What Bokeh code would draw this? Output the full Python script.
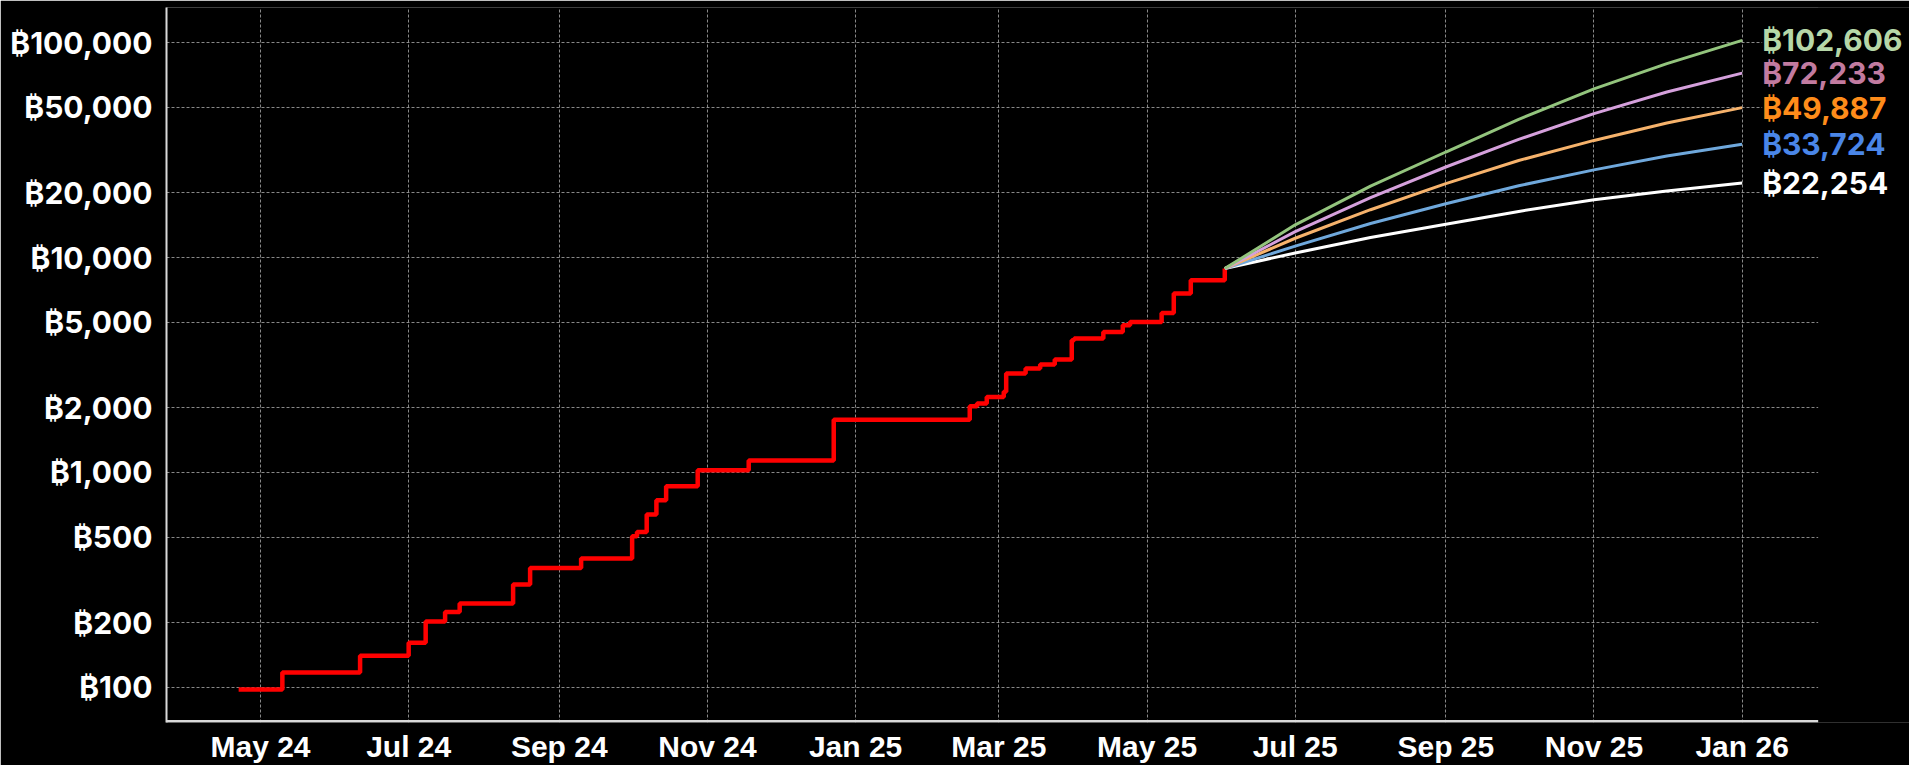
import datetime as dt
from bokeh.plotting import figure
from bokeh.models import (Range1d, FixedTicker, CustomJSTickFormatter, DatetimeTickFormatter,
                          Label, BoxAnnotation)
from bokeh.embed import file_html
from bokeh.resources import INLINE

# ---------------- data ----------------
hist_dates = ["2024-04-22", "2024-05-10", "2024-06-11", "2024-07-01", "2024-07-08",
              "2024-07-16", "2024-07-22", "2024-08-13", "2024-08-20", "2024-09-10",
              "2024-10-01", "2024-10-03", "2024-10-07", "2024-10-11", "2024-10-15",
              "2024-10-28", "2024-11-18", "2024-12-23", "2025-02-17", "2025-02-20",
              "2025-02-24", "2025-03-03", "2025-03-04", "2025-03-12", "2025-03-18",
              "2025-03-24", "2025-03-31", "2025-04-01", "2025-04-13", "2025-04-21",
              "2025-04-24", "2025-05-07", "2025-05-12", "2025-05-19", "2025-06-02"]
hist_values = [97.5, 117, 140, 161, 202,
               224, 245, 301, 359, 397,
               504, 528, 636, 741, 861,
               1022, 1137, 1759, 2030, 2090,
               2242, 2371, 2886, 3046, 3180,
               3354, 4124, 4200, 4508, 4843,
               5017, 5526, 6801, 7843, 8887]

proj_dates = ["2025-06-02", "2025-07-01", "2025-08-01", "2025-09-01",
              "2025-10-01", "2025-11-01", "2025-12-01", "2026-01-01"]
proj_green = [8887, 14200, 21500, 31000, 44000, 61000, 80000, 102606]
proj_pink = [8887, 13200, 19000, 26400, 35500, 46800, 59000, 72233]
proj_orange = [8887, 12300, 16700, 22100, 28300, 35100, 42300, 49887]
proj_blue = [8887, 11300, 14400, 17800, 21600, 25600, 29700, 33724]
proj_white = [8887, 10500, 12400, 14300, 16400, 18600, 20400, 22254]

y_ticks = [100, 200, 500, 1000, 2000, 5000, 10000, 20000, 50000, 100000]
x_tick_dates = ["2024-05-01", "2024-07-01", "2024-09-01", "2024-11-01", "2025-01-01",
                "2025-03-01", "2025-05-01", "2025-07-01", "2025-09-01", "2025-11-01",
                "2026-01-01"]


def ms(s):
    d = dt.datetime.fromisoformat(s).replace(tzinfo=dt.timezone.utc)
    return d.timestamp() * 1000.0


DAY = 86400000.0

hx = [ms(d) for d in hist_dates]
px = [ms(d) for d in proj_dates]

# axis extent (the drawn x axis stops a month after the last tick; the frame continues
# to the right edge so that the end labels are not clipped)
x_start = ms("2024-05-01") - 38.7 * DAY
x_axis_end = ms("2026-01-01") + 31.3 * DAY
x_end = ms("2026-01-01") + 68.9 * DAY
y_start, y_end = 68.5, 145900

p = figure(width=1909, height=765, x_axis_type="datetime", y_axis_type="log",
           x_range=Range1d(x_start, x_end), y_range=Range1d(y_start, y_end),
           output_backend="svg", toolbar_location=None,
           background_fill_color="#000000", border_fill_color="#000000",
           outline_line_color=None,
           min_border_left=166, min_border_right=0, min_border_top=7, min_border_bottom=42)

# grid
for g in (p.xgrid, p.ygrid):
    g.grid_line_color = "#a0a0a0"
    g.grid_line_dash = "3 2"
    g.grid_line_width = 1
    g.grid_line_alpha = 0.85

# mask the grid beyond the end of the x axis
p.add_layout(BoxAnnotation(left=x_axis_end, fill_color="#000000", fill_alpha=1.0,
                           line_color=None, level="underlay"))

# axes
p.xaxis.ticker = FixedTicker(ticks=[ms(d) for d in x_tick_dates], minor_ticks=[])
p.xaxis.formatter = DatetimeTickFormatter(days="%b %y", months="%b %y", years="%b %y")
p.yaxis.ticker = FixedTicker(ticks=y_ticks, minor_ticks=[])
p.yaxis.formatter = CustomJSTickFormatter(
    code="return '\u20bf' + Math.round(tick).toLocaleString('en-US');")

for ax in (p.xaxis, p.yaxis):
    ax.axis_line_color = "#d9d9d9"
    ax.axis_line_width = 2
    ax.major_tick_line_color = None
    ax.minor_tick_line_color = None
    ax.major_tick_out = 0
    ax.major_tick_in = 0
    ax.major_label_text_color = "#ffffff"

p.xaxis.axis_line_color = None  # drawn below, only up to x_axis_end
p.xaxis.major_label_text_font = "Liberation Sans"
p.xaxis.major_label_text_font_style = "bold"
p.xaxis.major_label_text_font_size = "30px"
p.xaxis.major_label_standoff = 7

p.yaxis.major_label_text_font = "Inter"
p.yaxis.major_label_text_font_style = "bold"
p.yaxis.major_label_text_font_size = "30px"
p.yaxis.major_label_standoff = 14

# bottom axis line, limited to the axis extent
p.add_layout(BoxAnnotation(left=x_start, right=x_axis_end, bottom=y_start,
                           top=y_start * 10 ** (2.5 / 215.0), fill_color="#d9d9d9",
                           fill_alpha=1.0, line_color=None, level="overlay"))

# historical step line
p.step(hx, hist_values, mode="after", line_color="#ff0000", line_width=4.5)

# projections
series = [
    (proj_white, "#ffffff", "#ffffff"),
    (proj_blue, "#6fa8dc", "#4a86e8"),
    (proj_orange, "#f6b26b", "#ff8c1a"),
    (proj_pink, "#d5a0dc", "#c27ba0"),
    (proj_green, "#93c47d", "#b6d7a8"),
]
for vals, lc, tc in series:
    p.line(px, vals, line_color=lc, line_width=3)
    p.add_layout(Label(x=px[-1], y=vals[-1], x_offset=20, text="\u20bf{:,}".format(vals[-1]),
                       text_color=tc, text_font="Inter", text_font_style="bold",
                       text_font_size="30px", text_baseline="middle", text_align="left",
                       background_fill_color="#000000", background_fill_alpha=1.0))

open("out.html", "w").write(file_html(p, INLINE))
